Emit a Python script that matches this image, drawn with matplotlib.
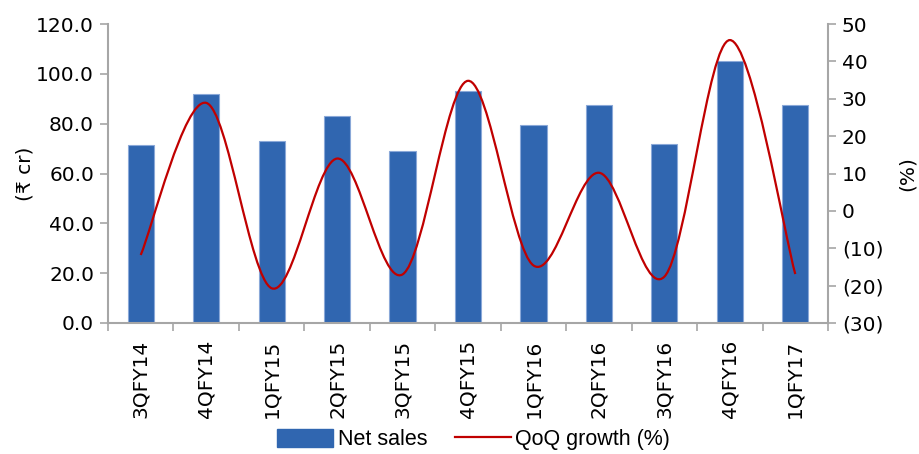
import matplotlib
matplotlib.use("Agg")
import matplotlib.pyplot as plt
from matplotlib.path import Path
from matplotlib.patches import PathPatch, Patch
from matplotlib.lines import Line2D
from matplotlib.ticker import FuncFormatter

# Quarterly net sales and QoQ growth
quarters = ['3QFY14', '4QFY14', '1QFY15', '2QFY15', '3QFY15', '4QFY15',
            '1QFY16', '2QFY16', '3QFY16', '4QFY16', '1QFY17']
net_sales = [71.5, 92.0, 73.0, 83.2, 69.0, 93.0, 79.5, 87.3, 72.0, 105.0, 87.3]
qoq_growth = [-11.8, 28.9, -20.7, 14.0, -17.0, 34.8, -14.6, 10.2, -17.6, 45.7, -16.9]

left_ticks = [0, 20, 40, 60, 80, 100, 120]
right_ticks = [-30, -20, -10, 0, 10, 20, 30, 40, 50]

bar_blue = '#3066B0'
line_red = '#C00000'
axis_grey = '#A6A6A6'
font_size = 14.5

plt.rcParams['font.family'] = ['DejaVu Sans', 'Noto Sans']

fig = plt.figure(figsize=(9.19, 4.54), dpi=100)
ax = fig.add_axes([108 / 919, (454 - 323) / 454, 720 / 919, 299 / 454])

x = list(range(len(quarters)))
ax.bar(x, net_sales, width=0.4, color=bar_blue, edgecolor='#8AA8D8', linewidth=0.8, zorder=2)
ax.set_xlim(-0.5, len(quarters) - 0.5)
ax.set_ylim(0, 120)
ax.set_yticks(left_ticks)
ax.yaxis.set_major_formatter(FuncFormatter(lambda v, p: f"{v:.1f}"))
ax.set_ylabel('(₹ cr)', fontsize=font_size, labelpad=1)

# category labels in the middle, tick marks between categories
ax.set_xticks(x)
ax.set_xticklabels(quarters, rotation=90, fontsize=font_size)
ax.tick_params(axis='x', which='major', length=0, pad=12)
ax.set_xticks([i - 0.5 for i in range(len(quarters) + 1)], minor=True)
ax.tick_params(axis='x', which='minor', length=6, color=axis_grey, width=1.2)
ax.tick_params(axis='y', length=6, color=axis_grey, width=1.2, labelsize=font_size, pad=4)

for side in ['top', 'right']:
    ax.spines[side].set_visible(False)
for side in ['left', 'bottom']:
    ax.spines[side].set_color(axis_grey)
    ax.spines[side].set_linewidth(1.5)

ax2 = ax.twinx()
ax2.set_ylim(-30, 50)
ax2.set_yticks(right_ticks)
ax2.yaxis.set_major_formatter(FuncFormatter(lambda v, p: f"({abs(v):.0f})" if v < 0 else f"{v:.0f}"))
ax2.set_ylabel('(%)', fontsize=font_size, labelpad=10)
ax2.tick_params(axis='y', length=6, color=axis_grey, width=1.2, labelsize=font_size, pad=4)
for side in ['top', 'left', 'bottom']:
    ax2.spines[side].set_visible(False)
ax2.spines['right'].set_color(axis_grey)
ax2.spines['right'].set_linewidth(1.5)

# smoothed line like the spreadsheet one (Catmull-Rom style bezier through the points)
pts = list(zip(x, qoq_growth))
verts = [pts[0]]
codes = [Path.MOVETO]
for i in range(len(pts) - 1):
    p0 = pts[i - 1] if i > 0 else pts[i]
    p1 = pts[i]
    p2 = pts[i + 1]
    p3 = pts[i + 2] if i + 2 < len(pts) else pts[i + 1]
    c1 = (p1[0] + (p2[0] - p0[0]) / 6, p1[1] + (p2[1] - p0[1]) / 6)
    c2 = (p2[0] - (p3[0] - p1[0]) / 6, p2[1] - (p3[1] - p1[1]) / 6)
    verts += [c1, c2, p2]
    codes += [Path.CURVE4] * 3
ax2.add_patch(PathPatch(Path(verts, codes), facecolor='none', edgecolor=line_red, linewidth=1.6, zorder=3))

handles = [Patch(facecolor=bar_blue, edgecolor=bar_blue),
           Line2D([0], [0], color=line_red, linewidth=1.6)]
fig.legend(handles, ['Net sales', 'QoQ growth (%)'], loc='lower left',
           bbox_to_anchor=(258 / 919, -0.034), ncol=2, frameon=False,
           prop={'family': 'Liberation Sans', 'size': 15.5},
           handlelength=2.6, handleheight=0.9, handletextpad=0.2, columnspacing=1.3)

fig.savefig('out.png', dpi=100)
